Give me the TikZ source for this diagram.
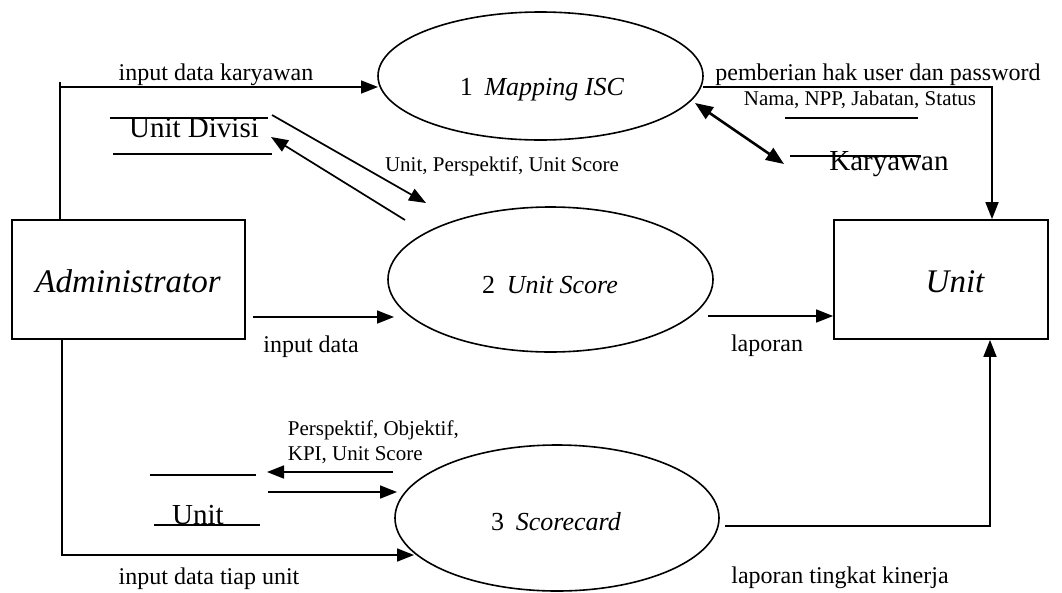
\documentclass[tikz,border=0pt]{standalone}
\usepackage{fontspec}
\setmainfont{Liberation Serif}
\usetikzlibrary{shapes.geometric,arrows.meta}

\begin{document}
\begin{tikzpicture}[x=1pt,y=-1pt,line width=1.7pt,
  tip/.style={-{Triangle[length=17pt,width=13pt]}},
  both/.style={{Triangle[length=18pt,width=14pt]}-{Triangle[length=18pt,width=14pt]}},
  proc/.style={draw,ellipse,inner sep=0pt,line width=1.6pt},
  ent/.style={draw,rectangle,inner sep=0pt,line width=1.8pt},
  plabel/.style={font=\fontsize{26}{30}\selectfont,anchor=base,inner sep=0pt},
  elabel/.style={font=\fontsize{33}{38}\selectfont\itshape,anchor=base,inner sep=0pt},
  flow/.style={font=\fontsize{24}{28}\selectfont,anchor=base,inner sep=0pt},
  small/.style={font=\fontsize{21}{25}\selectfont,anchor=base,inner sep=0pt},
  store/.style={font=\fontsize{29}{33}\selectfont,anchor=base,inner sep=0pt}]

\useasboundingbox (0,0) rectangle (1062,592);

% processes
\node[proc,minimum width=325pt,minimum height=128pt] (p1) at (540.5,76) {};
\node[proc,minimum width=325pt,minimum height=145pt] (p2) at (550.5,279.5) {};
\node[proc,minimum width=324pt,minimum height=146pt] (p3) at (557,518) {};
\node[plabel] (p1t) at (542,95) {1\hspace{0.45em}\textit{Mapping ISC}};
\node[plabel] (p2t) at (550,293) {2\hspace{0.45em}\textit{Unit Score}};
\node[plabel] (p3t) at (556,530) {3\hspace{0.45em}\textit{Scorecard}};

% external entities
\node[ent,minimum width=233pt,minimum height=119pt] (admin) at (128.5,279.5) {};
\node[ent,minimum width=214pt,minimum height=119pt] (unit) at (941,279.5) {};
\node[elabel] (admint) at (128,292) {Administrator};
\node[elabel] (unitt) at (955,292) {Unit};

% data stores
\coordinate (dvA) at (110,118); \coordinate (dvB) at (268,118);
\coordinate (dvC) at (113,154); \coordinate (dvD) at (272,154);
\draw (dvA) -- (dvB); \draw (dvC) -- (dvD);
\node[store] (divisi) at (194,137) {Unit Divisi};

\coordinate (kwA) at (785,118); \coordinate (kwB) at (918,118);
\coordinate (kwC) at (790,156); \coordinate (kwD) at (921,156);
\draw (kwA) -- (kwB);
\node[store] (karyawan) at (889,170) {Karyawan};
\draw (kwC) -- (kwD);

\coordinate (unA) at (150,475); \coordinate (unB) at (256,475);
\coordinate (unC) at (154,525); \coordinate (unD) at (260,525);
\draw (unA) -- (unB);
\node[store] (unitstore) at (198,524) {Unit};
\draw (unC) -- (unD);

% admin -> process 1
\coordinate (c1) at (60,87);
\coordinate (p1in) at (378,87);
\draw[tip] (admin.north -| c1) -- (c1 |- 0,82) -- (c1) -- (p1in);
\node[flow] at (216,80) {input data karyawan};

% process 1 -> unit
\coordinate (p1out) at (703,87);
\coordinate (c2) at (992,87);
\draw[tip] (p1out) -- (c2) -- (c2 |- unit.north);
\node[flow] at (878,80) {pemberian hak user dan password};
\node[small] at (860,105) {Nama, NPP, Jabatan, Status};

% process 1 <-> Karyawan
\coordinate (p1k) at (695,103);
\coordinate (kwin) at (784,164);
\draw[both,line width=2.6pt] (p1k) -- (kwin);

% Unit Divisi <-> process 2
\coordinate (dv1) at (272,115); \coordinate (p2a) at (426,203);
\coordinate (p2b) at (405,220); \coordinate (dv2) at (271,137);
\draw[tip] (dv1) -- (p2a);
\draw[tip] (p2b) -- (dv2);
\node[small] at (502,171) {Unit, Perspektif, Unit Score};

% admin -> process 2
\coordinate (a2) at (253,317); \coordinate (p2in) at (394,317);
\draw[tip] (a2) -- (p2in);
\node[flow] at (311,352) {input data};

% process 2 -> unit
\coordinate (p2out) at (708,316);
\draw[tip] (p2out) -- (p2out -| unit.west);
\node[flow] at (767,351) {laporan};

% admin -> process 3
\coordinate (c3) at (62,555); \coordinate (p3in) at (414,555);
\draw[tip] (admin.south -| c3) -- (c3) -- (p3in);
\node[flow] at (209,584) {input data tiap unit};

% Unit store <-> process 3
\coordinate (p3a) at (393,472); \coordinate (un1) at (267,472);
\coordinate (un2) at (268,492); \coordinate (p3b) at (397,492);
\draw[tip] (p3a) -- (un1);
\draw[tip] (un2) -- (p3b);
\node[small,anchor=base west] at (287,435) {Perspektif, Objektif,};
\node[small,anchor=base west] at (287,460) {KPI, Unit Score};

% process 3 -> unit
\coordinate (p3out) at (725,526); \coordinate (c4) at (990,526);
\draw[tip] (p3out) -- (c4) -- (c4 |- unit.south);
\node[flow] at (840,583) {laporan tingkat kinerja};

\end{tikzpicture}
\end{document}
